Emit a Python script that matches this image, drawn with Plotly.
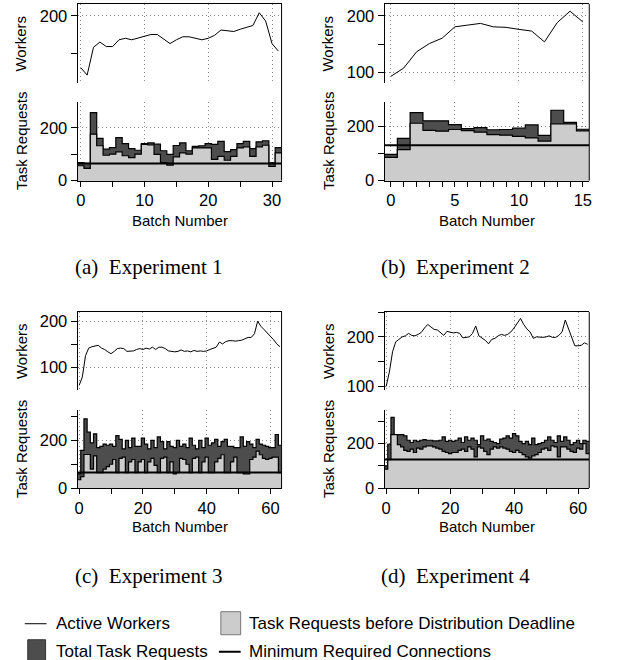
import numpy as np
import plotly.graph_objects as go

W, H = 618, 660

# ---------------- data ----------------
exp1_workers = [131, 121, 158, 165, 159, 159, 168, 170, 168, 170, 172, 175, 175, 169, 163, 168,
                172, 172, 170, 168, 170, 174, 181, 180, 179, 182, 184, 187, 204, 193, 163, 153]
exp1_total = [68, 65, 258, 160, 119, 125, 163, 140, 121, 115, 140, 143, 138, 113, 99, 133,
              143, 113, 130, 132, 140, 137, 149, 110, 117, 140, 149, 121, 147, 151, 67, 125]
exp1_before = [56, 46, 176, 132, 96, 100, 109, 94, 87, 100, 137, 135, 99, 68, 58, 90,
               105, 100, 124, 124, 124, 80, 92, 77, 92, 124, 128, 92, 128, 134, 54, 105]
exp1_min = 65

exp2_workers = [93.5, 108, 136.5, 151, 160.5, 180.5, 183.5, 186.5, 180.5, 179.5, 176, 173, 154, 188, 208, 189]
exp2_total = [96, 155, 250, 220, 220, 206, 191, 195, 187, 188, 193, 205, 166, 259, 214, 189]
exp2_before = [85, 114, 211, 185, 182, 188, 184, 178, 169, 167, 163, 157, 145, 209, 209, 183]
exp2_min = 130

exp3_workers = [62, 80, 126, 142, 145, 146, 148, 142, 139, 134, 130, 135, 141, 142, 141, 135,
                135, 136, 139, 141, 139, 142, 140, 144, 139, 144, 144, 141, 136, 135, 134, 135,
                138, 135, 136, 134, 137, 135, 136, 135, 136, 139, 142, 144, 155, 151, 156, 158,
                158, 157, 158, 159, 162, 165, 165, 173, 200, 189, 182, 175, 168, 160, 151, 145]
exp3_total = [60, 158, 291, 235, 190, 228, 170, 175, 185, 180, 185, 175, 220, 205, 165, 200,
              170, 210, 175, 175, 210, 185, 165, 200, 170, 215, 195, 165, 195, 175, 170, 200,
              175, 185, 170, 210, 180, 165, 200, 170, 210, 180, 190, 205, 175, 195, 205, 175,
              175, 170, 170, 215, 175, 195, 185, 170, 205, 185, 180, 175, 170, 170, 225, 180]
exp3_before = [35, 48, 141, 141, 80, 135, 65, 65, 80, 90, 100, 120, 65, 125, 130, 65,
               110, 120, 65, 110, 120, 65, 110, 125, 95, 65, 125, 130, 65, 110, 60, 65,
               125, 120, 100, 65, 125, 130, 65, 110, 130, 65, 65, 110, 125, 140, 65, 65,
               110, 130, 65, 65, 60, 60, 120, 130, 155, 140, 125, 120, 125, 130, 130, 65]
exp3_min = 65

exp4_workers = [100, 129, 170, 190, 195, 200, 202, 207, 203, 202, 205, 209, 218, 225, 220, 215,
                214, 209, 203, 211, 209, 208, 209, 207, 198, 199, 200, 207, 222, 202, 197, 193,
                186, 195, 197, 202, 205, 203, 205, 210, 218, 227, 237, 225, 216, 210, 197, 200,
                199, 199, 200, 202, 199, 199, 203, 210, 234, 216, 200, 182, 182, 183, 188, 185]
exp4_total = [100, 197, 318, 235, 240, 240, 235, 215, 205, 215, 210, 215, 218, 215, 215, 212,
              212, 215, 230, 210, 215, 210, 215, 225, 205, 230, 215, 225, 215, 195, 235, 215,
              220, 210, 205, 200, 220, 225, 235, 225, 245, 235, 210, 200, 210, 195, 225, 195,
              200, 205, 215, 230, 215, 205, 235, 210, 230, 215, 195, 205, 215, 200, 215, 210]
exp4_before = [85, 128, 240, 240, 195, 185, 170, 165, 175, 160, 180, 175, 185, 190, 190, 185,
               180, 175, 165, 160, 155, 160, 160, 170, 175, 165, 185, 175, 140, 185, 180, 165,
               150, 175, 185, 180, 185, 180, 175, 165, 160, 170, 160, 150, 140, 135, 145, 150,
               160, 175, 180, 170, 190, 185, 140, 185, 185, 175, 165, 160, 180, 175, 200, 155]
exp4_min = 128

captions = ["(a)  Experiment 1", "(b)  Experiment 2", "(c)  Experiment 3", "(d)  Experiment 4"]
legend_labels = ["Active Workers", "Task Requests before Distribution Deadline",
                 "Total Task Requests", "Minimum Required Connections"]

# ---------------- layout helpers ----------------
SANS = "Liberation Sans, Arial, Helvetica, sans-serif"
SERIF = "Liberation Serif, Times New Roman, serif"
DARK = "#4d4d4d"
LIGHT = "#cccccc"
GRID = "#8a8a8a"
S = 1.015  # vertical compensation for the capture

panels = [
    dict(w=exp1_workers, t=exp1_total, b=exp1_before, m=exp1_min,
         xl=75.3, xr=281.3, top=(4, 83.3), bot=(101.7, 180.3), wr=[110, 215.6], rr=[0, 299],
         xmaj=10, xmin=5, cap=captions[0], capx=147, capy=267, xlaby=220, ytx=18),
    dict(w=exp2_workers, t=exp2_total, b=exp2_before, m=exp2_min,
         xl=385.3, xr=592, top=(4, 83.3), bot=(101.7, 180.3), wr=[81, 220.6], rr=[0, 290],
         xmaj=5, xmin=1, cap=captions[1], capx=457, capy=267, xlaby=220, ytx=328),
    dict(w=exp3_workers, t=exp3_total, b=exp3_before, m=exp3_min,
         xl=75.3, xr=281.3, top=(311.7, 390), bot=(410, 487.5), wr=[51, 219.5], rr=[0, 326],
         xmaj=20, xmin=10, cap=captions[2], capx=147, capy=575, xlaby=526, ytx=18),
    dict(w=exp4_workers, t=exp4_total, b=exp4_before, m=exp4_min,
         xl=385.3, xr=592, top=(311.7, 390), bot=(410, 487.5), wr=[92, 250], rr=[0, 349],
         xmaj=20, xmin=10, cap=captions[3], capx=457, capy=575, xlaby=526, ytx=328),
]

fig = go.Figure()
layout = dict(width=W, height=H, margin=dict(l=0, r=0, t=0, b=0),
              paper_bgcolor="white", plot_bgcolor="white", showlegend=False,
              font=dict(family=SANS, size=16, color="black"))
shapes, annotations = [], []


def py(px):
    return 1 - px * S / H


TICKF = 16.5
for k, p in enumerate(panels):
    bi, ti = 2 * k + 1, 2 * k + 2
    n = len(p["w"])
    idx = np.arange(n)
    edges = np.arange(n + 1) - 0.5
    xs_b, ys_b = f"x{bi}", f"y{bi}"
    xs_t, ys_t = f"x{ti}", f"y{ti}"

    fig.add_trace(go.Scatter(x=edges, y=list(p["t"]) + [p["t"][-1]], mode="lines",
                             line=dict(shape="hv", color="black", width=1.2),
                             fill="tozeroy", fillcolor=DARK, xaxis=xs_b, yaxis=ys_b))
    fig.add_trace(go.Scatter(x=edges, y=list(p["b"]) + [p["b"][-1]], mode="lines",
                             line=dict(shape="hv", color="black", width=1.2),
                             fill="tozeroy", fillcolor=LIGHT, xaxis=xs_b, yaxis=ys_b))
    fig.add_trace(go.Scatter(x=[edges[0], edges[-1]], y=[p["m"], p["m"]], mode="lines",
                             line=dict(color="black", width=2), xaxis=xs_b, yaxis=ys_b))
    fig.add_trace(go.Scatter(x=idx, y=p["w"], mode="lines",
                             line=dict(color="black", width=1), xaxis=xs_t, yaxis=ys_t))

    xdom = [p["xl"] / W, p["xr"] / W]
    xr = [-0.5, n - 0.5]
    common_grid = dict(showgrid=True, gridcolor=GRID, griddash="1px,3px", gridwidth=1, zeroline=False)
    layout[f"xaxis{bi}"] = dict(domain=xdom, anchor=ys_b, range=xr, showline=True, linecolor="black",
                                linewidth=1, ticks="outside", ticklen=5, tickcolor="black",
                                tick0=0, dtick=p["xmaj"], tickfont=dict(size=TICKF),
                                minor=dict(dtick=p["xmin"], tick0=0, ticks="outside", ticklen=5,
                                           tickcolor="black", showgrid=False), **common_grid)
    layout[f"xaxis{ti}"] = dict(domain=xdom, anchor=ys_t, range=xr, side="top", showline=True,
                                linecolor="black", linewidth=1, ticks="", showticklabels=False,
                                tick0=0, dtick=p["xmaj"], **common_grid)
    layout[f"yaxis{bi}"] = dict(domain=[py(p["bot"][1]), py(p["bot"][0])], anchor=xs_b, range=p["rr"],
                                showline=True, linecolor="black", linewidth=1, ticks="outside",
                                ticklen=6, tickcolor="black", tick0=0, dtick=200,
                                tickfont=dict(size=TICKF),
                                minor=dict(dtick=100, tick0=0, ticks="outside", ticklen=6,
                                           tickcolor="black", showgrid=False), **common_grid)
    layout[f"yaxis{ti}"] = dict(domain=[py(p["top"][1]), py(p["top"][0])], anchor=xs_t, range=p["wr"],
                                showline=True, linecolor="black", linewidth=1, ticks="outside",
                                ticklen=6, tickcolor="black", tick0=0, dtick=100,
                                tickfont=dict(size=TICKF),
                                minor=dict(dtick=50, tick0=0, ticks="outside", ticklen=6,
                                           tickcolor="black", showgrid=False), **common_grid)
    shapes.append(dict(type="line", xref="paper", yref="paper", x0=xdom[1], x1=xdom[1],
                       y0=py(p["bot"][1]), y1=py(p["top"][0]), line=dict(color="black", width=1)))
    annotations.append(dict(text="Workers", xref="paper", yref="paper", x=p["ytx"] / W,
                            y=py((p["top"][0] + p["top"][1]) / 2), textangle=-90, showarrow=False,
                            font=dict(size=15), xanchor="center", yanchor="middle"))
    annotations.append(dict(text="Task Requests", xref="paper", yref="paper", x=p["ytx"] / W,
                            y=py((p["bot"][0] + p["bot"][1]) / 2), textangle=-90, showarrow=False,
                            font=dict(size=15), xanchor="center", yanchor="middle"))
    annotations.append(dict(text="Batch Number", xref="paper", yref="paper",
                            x=(xdom[0] + xdom[1]) / 2, y=py(p["xlaby"]), showarrow=False,
                            font=dict(size=15), xanchor="center", yanchor="middle"))
    annotations.append(dict(text=p["cap"], xref="paper", yref="paper", x=p["capx"] / W,
                            y=py(p["capy"]), showarrow=False, font=dict(size=21, family=SERIF),
                            xanchor="center", yanchor="middle"))

# ---------------- legend (drawn manually) ----------------
LEG = 17
C2_SW0, C2_SW1, C2_TX = 220, 240, 246
shapes.append(dict(type="line", xref="paper", yref="paper", x0=22 / W, x1=44 / W,
                   y0=py(623), y1=py(623), line=dict(color="black", width=1)))
annotations.append(dict(text=legend_labels[0], xref="paper", yref="paper", x=52 / W, y=py(623),
                        xanchor="left", yanchor="middle", showarrow=False, font=dict(size=LEG)))
shapes.append(dict(type="rect", xref="paper", yref="paper", x0=C2_SW0 / W, x1=C2_SW1 / W,
                   y0=py(634), y1=py(611), fillcolor=LIGHT, line=dict(color="#777777", width=1)))
annotations.append(dict(text=legend_labels[1], xref="paper", yref="paper", x=C2_TX / W, y=py(623),
                        xanchor="left", yanchor="middle", showarrow=False, font=dict(size=LEG)))
shapes.append(dict(type="rect", xref="paper", yref="paper", x0=25 / W, x1=43 / W,
                   y0=py(665), y1=py(639), fillcolor=DARK, line=dict(color="#333333", width=1)))
annotations.append(dict(text=legend_labels[2], xref="paper", yref="paper", x=52 / W, y=py(651),
                        xanchor="left", yanchor="middle", showarrow=False, font=dict(size=LEG)))
shapes.append(dict(type="line", xref="paper", yref="paper", x0=(C2_SW0 - 2) / W, x1=C2_SW1 / W,
                   y0=py(651), y1=py(651), line=dict(color="black", width=2)))
annotations.append(dict(text=legend_labels[3], xref="paper", yref="paper", x=C2_TX / W, y=py(651),
                        xanchor="left", yanchor="middle", showarrow=False, font=dict(size=LEG)))

layout["shapes"] = shapes
layout["annotations"] = annotations
fig.update_layout(**layout)
fig.write_html(
    "out.html",
    config={"displayModeBar": False},
    post_script=("document.documentElement.style.margin='0px';"
                 "document.body.style.margin='0px';"
                 "document.body.style.overflow='hidden';"
                 "document.documentElement.style.overflow='hidden';"),
)
